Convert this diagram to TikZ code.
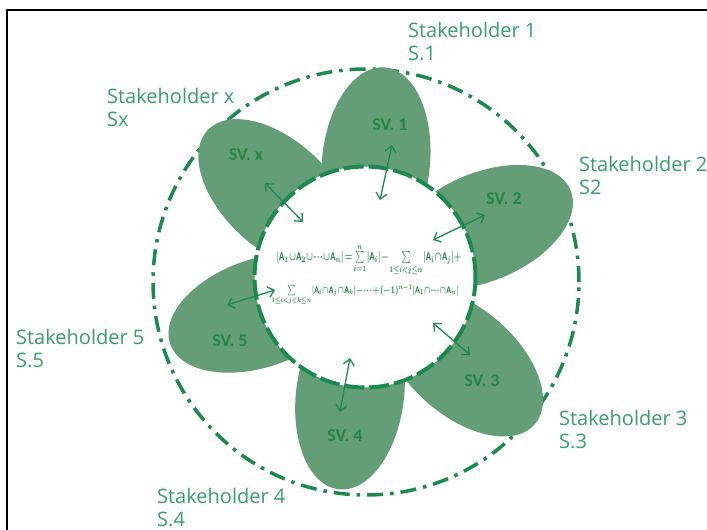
\documentclass[tikz,border=0pt]{standalone}
\usepackage{fontspec}
\usepackage{amsmath}
\setmainfont{Open Sans}
\newfontfamily\labelfont{Carlito}
\usetikzlibrary{arrows.meta,shapes.geometric}

\definecolor{petalgreen}{RGB}{100,158,118}
\definecolor{ringgreen}{RGB}{28,138,78}
\definecolor{namegreen}{RGB}{56,158,110}
\definecolor{svgreen}{RGB}{34,134,70}
\definecolor{formulagreen}{RGB}{30,130,66}

% set letter used in the formula
\newcommand\Aset[1]{\text{\labelfont\bfseries A}_{#1}}
% compact spacing for the formula lines
\newcommand\tightmath{\textstyle\medmuskip=1mu\thickmuskip=2mu\thinmuskip=1mu}

\tikzset{
  petal/.style={ellipse, fill=petalgreen, draw=none, minimum width=190pt, minimum height=108pt, inner sep=0pt},
  svlabel/.style={font=\labelfont\bfseries\fontsize{18}{20}\selectfont, text=svgreen, inner sep=0pt},
  holder/.style={font=\fontsize{20}{23}\selectfont, text=namegreen, align=left, anchor=north west, inner sep=0pt},
  outerring/.style={draw=ringgreen, line width=3.5pt, dash pattern=on 16pt off 7pt on 3.5pt off 7pt},
  innerring/.style={draw=ringgreen, fill=white, line width=4pt, dash pattern=on 20pt off 5pt},
  link/.style={draw=ringgreen, line width=1.3pt, {Straight Barb[length=6pt,width=11pt]}-{Straight Barb[length=6pt,width=11pt]}},
  formula/.style={text=formulagreen, inner sep=0pt}
}

\begin{document}
\begin{tikzpicture}[x=1pt,y=-1pt]
  \useasboundingbox (0,0) rectangle (707,530);
  \fill[white] (0,0) rectangle (707,530);

  % frame edges
  \draw[black, line width=2pt] (7,531) -- (7,10) -- (708,10);

  % outer stakeholder ring
  \node[circle, minimum size=426pt, inner sep=0pt, outerring] (ring) at (366,282) {};

  % value petals
  \node[petal, rotate=84.5] (p1) at (376,162) {};
  \node[petal, rotate=23]   (p2) at (483,227) {};
  \node[petal, rotate=-41]  (p3) at (463,362) {};
  \node[petal, rotate=-97]  (p4) at (350,395) {};
  \node[petal, rotate=199]  (p5) at (260,313) {};
  \node[petal, rotate=137]  (px) at (277,195) {};

  % shared core
  \node[circle, minimum size=221pt, inner sep=0pt, innerring] (core) at (365,277) {};

  % petal labels
  \node[svlabel] (sv1) at (390,125) {SV. 1};
  \node[svlabel] (sv2) at (504,199) {SV. 2};
  \node[svlabel] (sv3) at (482,381) {SV. 3};
  \node[svlabel] (sv4) at (345,436) {SV. 4};
  \node[svlabel] (sv5) at (230,341) {SV. 5};
  \node[svlabel] (svx) at (246,155) {SV. x};

  % inclusion-exclusion formula
  \node[formula] (f1) at (369,260) {\resizebox*{185pt}{31pt}{\boldmath$\tightmath |\Aset1\cup \Aset2\cup\dots\cup \Aset n| = \sum\limits_{i=1}^{n}|\Aset i| - \sum\limits_{1\le i<j\le n}|\Aset i\cap \Aset j| +$}};
  \node[formula] (f2) at (365,295) {\resizebox*{187pt}{21pt}{\boldmath$\tightmath \sum\limits_{1\le i<j<k\le n}|\Aset i\cap \Aset j\cap \Aset k| - \dots + (-1)^{n-1}|\Aset 1\cap\dots\cap \Aset n|$}};

  % arrow end points
  \coordinate (a1i) at (380,200); \coordinate (a1o) at (392,145);
  \coordinate (a2i) at (433,240); \coordinate (a2o) at (485,215);
  \coordinate (a3i) at (433,323); \coordinate (a3o) at (470,355);
  \coordinate (a4i) at (350,358); \coordinate (a4o) at (340,412);
  \coordinate (a5i) at (275,290); \coordinate (a5o) at (227,305);
  \coordinate (axi) at (303,222); \coordinate (axo) at (265,183);

  % exchanges between core and petals
  \draw[link] (a1i) -- (a1o);
  \draw[link] (a2i) -- (a2o);
  \draw[link] (a3i) -- (a3o);
  \draw[link] (a4i) -- (a4o);
  \draw[link] (a5i) -- (a5o);
  \draw[link] (axi) -- (axo);

  % stakeholder names
  \node[holder] (s1) at (408,22)  {Stakeholder 1\\S.1};
  \node[holder] (sx) at (107,88)  {Stakeholder x\\Sx};
  \node[holder] (s2) at (579,156) {Stakeholder 2\\S2};
  \node[holder] (s5) at (16,329)  {Stakeholder 5\\S.5};
  \node[holder] (s3) at (559,410) {Stakeholder 3\\S.3};
  \node[holder] (s4) at (157,488) {Stakeholder 4\\S.4};
\end{tikzpicture}
\end{document}
